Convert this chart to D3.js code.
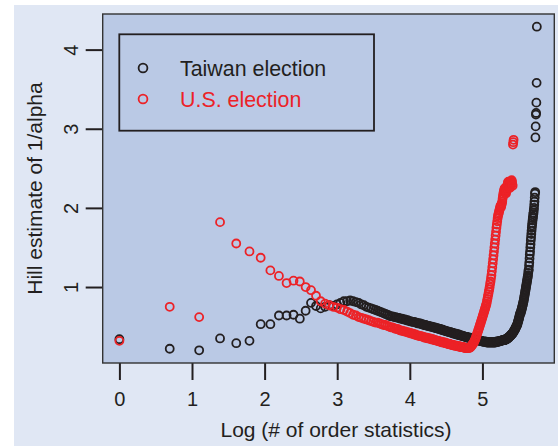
<!DOCTYPE html>
<html>
<head>
<meta charset="utf-8">
<script src="https://cdn.jsdelivr.net/npm/d3@7"></script>
<style>
  html, body { margin: 0; padding: 0; background: #ffffff; }
  svg { display: block; font-family: "Liberation Sans", Arial, Helvetica, sans-serif; }
</style>
</head>
<body>
<svg id="chart" width="558" height="446"></svg>
<script>
// Hill estimates of 1/alpha for k = 1, 2, 3, ... order statistics
const taiwanValues = [
  0.34, 0.22, 0.20, 0.35, 0.29, 0.32, 0.53, 0.53, 0.64, 0.64,
  0.65, 0.60, 0.70, 0.80, 0.76, 0.73, 0.75, 0.77, 0.76, 0.78,
  0.80, 0.82, 0.82, 0.83, 0.82, 0.81, 0.80, 0.78, 0.77, 0.75,
  0.74, 0.73, 0.72, 0.71, 0.70, 0.69, 0.68, 0.67, 0.66, 0.65,
  0.64, 0.63, 0.63, 0.62, 0.62, 0.61, 0.61, 0.60, 0.60, 0.59,
  0.59, 0.58, 0.58, 0.57, 0.57, 0.56, 0.56, 0.56, 0.55, 0.55,
  0.54, 0.54, 0.54, 0.53, 0.53, 0.52, 0.52, 0.52, 0.51, 0.51,
  0.51, 0.50, 0.50, 0.50, 0.49, 0.49, 0.49, 0.48, 0.48, 0.48,
  0.47, 0.47, 0.47, 0.46, 0.46, 0.46, 0.45, 0.45, 0.45, 0.44,
  0.44, 0.44, 0.43, 0.43, 0.43, 0.43, 0.42, 0.42, 0.42, 0.41,
  0.41, 0.41, 0.41, 0.40, 0.40, 0.40, 0.40, 0.39, 0.39, 0.39,
  0.39, 0.38, 0.38, 0.38, 0.38, 0.37, 0.37, 0.37, 0.37, 0.37,
  0.36, 0.36, 0.36, 0.36, 0.36, 0.35, 0.35, 0.35, 0.35, 0.35,
  0.34, 0.34, 0.34, 0.34, 0.34, 0.33, 0.33, 0.33, 0.33, 0.33,
  0.33, 0.32, 0.32, 0.32, 0.32, 0.32, 0.32, 0.31, 0.31, 0.31,
  0.31, 0.31, 0.31, 0.31, 0.31, 0.31, 0.30, 0.30, 0.30, 0.30,
  0.30, 0.30, 0.30, 0.30, 0.30, 0.30, 0.30, 0.30, 0.30, 0.30,
  0.30, 0.30, 0.30, 0.30, 0.30, 0.30, 0.30, 0.30, 0.31, 0.31,
  0.31, 0.31, 0.31, 0.31, 0.31, 0.31, 0.31, 0.32, 0.32, 0.32,
  0.32, 0.32, 0.32, 0.32, 0.33, 0.33, 0.33, 0.33, 0.33, 0.33,
  0.33, 0.33, 0.33, 0.34, 0.34, 0.34, 0.34, 0.35, 0.35, 0.35,
  0.36, 0.36, 0.36, 0.37, 0.37, 0.38, 0.38, 0.38, 0.39, 0.39,
  0.40, 0.40, 0.41, 0.41, 0.42, 0.42, 0.43, 0.44, 0.44, 0.45,
  0.46, 0.46, 0.47, 0.48, 0.49, 0.50, 0.50, 0.51, 0.52, 0.53,
  0.54, 0.56, 0.57, 0.58, 0.60, 0.61, 0.63, 0.64, 0.66, 0.67,
  0.67, 0.68, 0.70, 0.71, 0.72, 0.74, 0.75, 0.77, 0.78, 0.80,
  0.81, 0.83, 0.85, 0.87, 0.89, 0.91, 0.93, 0.95, 0.97, 0.99,
  1.01, 1.03, 1.05, 1.07, 1.09, 1.11, 1.13, 1.15, 1.18, 1.21,
  1.22, 1.27, 1.31, 1.36, 1.41, 1.45, 1.50, 1.54, 1.59, 1.63,
  1.67, 1.71, 1.75, 1.78, 1.81, 1.84, 1.87, 1.89, 1.92, 1.94,
  1.97, 2.00, 2.04, 2.08, 2.13, 2.18, 2.20, 2.89, 3.03, 3.18,
  3.20, 3.33, 3.58, 4.29
];

const usValues = [
  0.32, 0.75, 0.62, 1.82, 1.55, 1.45, 1.37, 1.21, 1.14, 1.05,
  1.08, 1.07, 1.00, 0.96, 0.89, 0.82, 0.79, 0.77, 0.75, 0.74,
  0.72, 0.71, 0.69, 0.67, 0.65, 0.64, 0.62, 0.61, 0.60, 0.59,
  0.58, 0.57, 0.56, 0.55, 0.55, 0.54, 0.53, 0.52, 0.52, 0.51,
  0.50, 0.49, 0.49, 0.48, 0.47, 0.47, 0.46, 0.45, 0.45, 0.44,
  0.44, 0.43, 0.43, 0.42, 0.42, 0.41, 0.41, 0.40, 0.40, 0.39,
  0.39, 0.38, 0.38, 0.38, 0.37, 0.37, 0.36, 0.36, 0.36, 0.35,
  0.35, 0.35, 0.34, 0.34, 0.34, 0.33, 0.33, 0.33, 0.32, 0.32,
  0.32, 0.31, 0.31, 0.31, 0.30, 0.30, 0.30, 0.30, 0.29, 0.29,
  0.29, 0.28, 0.28, 0.28, 0.28, 0.27, 0.27, 0.27, 0.27, 0.26,
  0.26, 0.26, 0.26, 0.26, 0.25, 0.25, 0.25, 0.25, 0.25, 0.24,
  0.24, 0.24, 0.24, 0.24, 0.24, 0.23, 0.23, 0.23, 0.23, 0.23,
  0.23, 0.23, 0.23, 0.23, 0.24, 0.24, 0.25, 0.26, 0.27, 0.28,
  0.29, 0.30, 0.32, 0.33, 0.35, 0.37, 0.39, 0.41, 0.43, 0.45,
  0.47, 0.49, 0.51, 0.53, 0.55, 0.57, 0.59, 0.61, 0.63, 0.65,
  0.67, 0.69, 0.71, 0.73, 0.75, 0.77, 0.79, 0.82, 0.85, 0.88,
  0.91, 0.94, 0.97, 1.00, 1.04, 1.07, 1.11, 1.15, 1.20, 1.25,
  1.30, 1.35, 1.40, 1.45, 1.50, 1.55, 1.60, 1.65, 1.70, 1.75,
  1.79, 1.83, 1.87, 1.90, 1.92, 1.94, 1.96, 1.98, 2.00, 2.02,
  2.03, 2.01, 2.04, 2.06, 2.08, 2.12, 2.15, 2.18, 2.20, 2.22,
  2.24, 2.25, 2.22, 2.20, 2.18, 2.20, 2.23, 2.26, 2.28, 2.30,
  2.32, 2.33, 2.31, 2.29, 2.27, 2.25, 2.26, 2.28, 2.30, 2.32,
  2.34, 2.35, 2.33, 2.30, 2.28, 2.80, 2.83, 2.86
];

const xTicks = [0, 1, 2, 3, 4, 5];
const yTicks = [1, 2, 3, 4];
const seriesNames = ["Taiwan election", "U.S. election"];
const seriesColors = ["#231f20", "#ec2227"];
const xTitle = "Log (# of order statistics)";
const yTitle = "Hill estimate of 1/alpha";

const svg = d3.select("#chart");
const ink = "#231f20";

// panel background and plotting region
const plot = { left: 102.7, right: 554.3, top: 14, bottom: 363 };

svg.append("rect")
  .attr("x", 14).attr("y", 5).attr("width", 544).attr("height", 441)
  .attr("fill", "#e0e7f4");

svg.append("rect")
  .attr("x", plot.left).attr("y", plot.top)
  .attr("width", plot.right - plot.left).attr("height", plot.bottom - plot.top)
  .attr("fill", "#bac9e5");

const x = d3.scaleLinear().domain([-0.23, 5.99]).range([plot.left, plot.right]);
const y = d3.scaleLinear().domain([0.04, 4.45]).range([plot.bottom, plot.top]);

// axes
const xAxis = svg.append("g")
  .attr("transform", `translate(0,${plot.bottom})`)
  .call(d3.axisBottom(x).tickValues(xTicks).tickSize(17).tickSizeOuter(0).tickFormat(d3.format("d")));
xAxis.select(".domain").remove();
xAxis.selectAll(".tick line").attr("stroke", ink).attr("stroke-width", 2);
xAxis.selectAll(".tick text")
  .attr("y", 43).attr("dy", 0)
  .attr("fill", ink).attr("font-size", 20)
  .attr("font-family", "Liberation Sans, Arial, sans-serif");

const yAxis = svg.append("g")
  .attr("transform", `translate(${plot.left},0)`)
  .call(d3.axisLeft(y).tickValues(yTicks).tickSize(17).tickSizeOuter(0).tickFormat(d3.format("d")));
yAxis.select(".domain").remove();
yAxis.selectAll(".tick line").attr("stroke", ink).attr("stroke-width", 2);
yAxis.selectAll(".tick text")
  .attr("x", 0).attr("dy", 0)
  .attr("text-anchor", "middle")
  .attr("transform", "translate(-24.4,0) rotate(-90)")
  .attr("fill", ink).attr("font-size", 20)
  .attr("font-family", "Liberation Sans, Arial, sans-serif");

// axis titles
svg.append("text")
  .attr("x", 336).attr("y", 437)
  .attr("text-anchor", "middle")
  .attr("font-size", 21).attr("fill", ink)
  .text(xTitle);

svg.append("text")
  .attr("transform", `translate(41.5,${(plot.top + plot.bottom) / 2}) rotate(-90)`)
  .attr("text-anchor", "middle")
  .attr("font-size", 21).attr("fill", ink)
  .text(yTitle);

// points: Taiwan first, U.S. on top
const seriesList = [taiwanValues, usValues];
seriesList.forEach((vals, si) => {
  svg.append("g")
    .selectAll("circle")
    .data(vals)
    .join("circle")
    .attr("cx", (d, i) => x(Math.log(i + 1)))
    .attr("cy", d => y(d))
    .attr("r", 4.0)
    .attr("fill", "none")
    .attr("stroke", seriesColors[si])
    .attr("stroke-width", 1.8);
});

// plot frame
svg.append("rect")
  .attr("x", plot.left).attr("y", plot.top)
  .attr("width", plot.right - plot.left).attr("height", plot.bottom - plot.top)
  .attr("fill", "none").attr("stroke", "#333333").attr("stroke-width", 1.4);

// legend
const legend = svg.append("g");
legend.append("rect")
  .attr("x", 119.3).attr("y", 34.3).attr("width", 254.7).attr("height", 96.4)
  .attr("fill", "none").attr("stroke", ink).attr("stroke-width", 1.8);

seriesNames.forEach((name, i) => {
  const cy = 68 + i * 31;
  legend.append("circle")
    .attr("cx", 143).attr("cy", cy).attr("r", 4.4)
    .attr("fill", "none").attr("stroke", seriesColors[i]).attr("stroke-width", 1.8);
  legend.append("text")
    .attr("x", 180).attr("y", cy + 7.5)
    .attr("font-size", 21.4).attr("fill", seriesColors[i])
    .text(name);
});
</script>
</body>
</html>
